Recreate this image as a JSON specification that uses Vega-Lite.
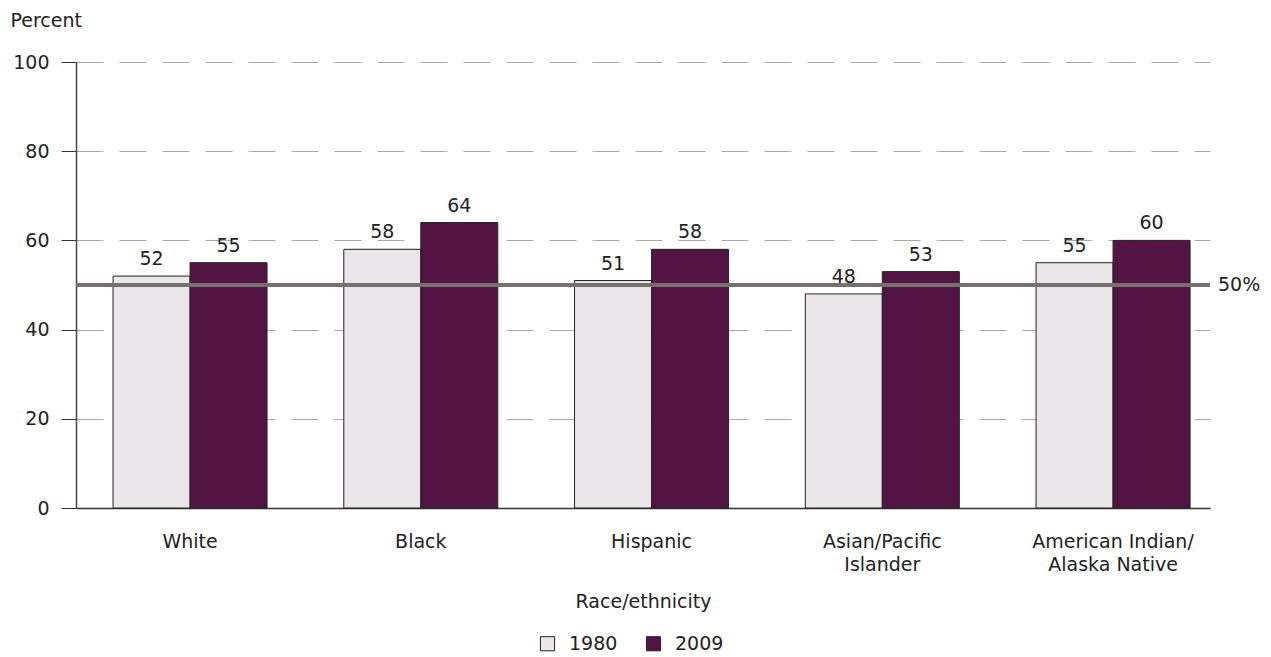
{
  "$schema": "https://vega.github.io/schema/vega-lite/v6.json",
  "width": 1134,
  "height": 446,
  "autosize": "none",
  "padding": {"left": 76, "top": 62, "right": 61, "bottom": 149},
  "background": "white",
  "config": {
    "view": {"stroke": null},
    "font": "DejaVu Sans",
    "axis": {"labelFont": "DejaVu Sans", "titleFont": "DejaVu Sans", "labelColor": "#222", "titleColor": "#222", "titleFontWeight": "normal"},
    "legend": {"labelFont": "DejaVu Sans"}
  },
  "data": {
    "values": [
      {"race": "White", "year": "1980", "pct": 52},
      {"race": "White", "year": "2009", "pct": 55},
      {"race": "Black", "year": "1980", "pct": 58},
      {"race": "Black", "year": "2009", "pct": 64},
      {"race": "Hispanic", "year": "1980", "pct": 51},
      {"race": "Hispanic", "year": "2009", "pct": 58},
      {"race": "Asian/Pacific Islander", "year": "1980", "pct": 48},
      {"race": "Asian/Pacific Islander", "year": "2009", "pct": 53},
      {"race": "American Indian/Alaska Native", "year": "1980", "pct": 55},
      {"race": "American Indian/Alaska Native", "year": "2009", "pct": 60}
    ]
  },
  "encoding": {
    "x": {
      "field": "race",
      "type": "nominal",
      "sort": null,
      "scale": {"paddingInner": 0.3326, "paddingOuter": 0.1235, "align": 0.65},
      "axis": {
        "title": "Race/ethnicity",
        "titleFontSize": 19,
        "titlePadding": 18,
        "labelAngle": 0,
        "labelFontSize": 19,
        "labelPadding": 33,
        "labelLineHeight": 23,
        "labelBaseline": "middle",
        "ticks": false,
        "domainColor": "#333",
        "domainWidth": 1.5,
        "labelExpr": "datum.value == 'Asian/Pacific Islander' ? ['Asian/Pacific', 'Islander'] : datum.value == 'American Indian/Alaska Native' ? ['American Indian/', 'Alaska Native'] : datum.value"
      }
    },
    "xOffset": {"field": "year", "type": "nominal", "scale": {"paddingInner": 0, "paddingOuter": 0}}
  },
  "layer": [
    {
      "mark": {"type": "bar", "stroke": "#222", "strokeWidth": 1},
      "encoding": {
        "y": {
          "field": "pct",
          "type": "quantitative",
          "scale": {"domain": [0, 100]},
          "axis": {
            "values": [0, 20, 40, 60, 80, 100],
            "title": "Percent",
            "titleAngle": 0,
            "titleAlign": "left",
            "titleBaseline": "middle",
            "titleX": -66,
            "titleY": -42,
            "titleFontSize": 19,
            "labelFontSize": 19,
            "labelPadding": 12,
            "tickSize": 15,
            "tickColor": "#333",
            "domainColor": "#444",
            "domainWidth": 1.5,
            "grid": true,
            "gridDash": [27, 16],
            "gridColor": "#aaa",
            "gridWidth": 1
          }
        },
        "fill": {
          "field": "year",
          "type": "nominal",
          "scale": {"domain": ["1980", "2009"], "range": ["#ece6ea", "#521443"]},
          "legend": {
            "title": null,
            "orient": "none",
            "direction": "horizontal",
            "legendX": 462,
            "legendY": 572,
            "symbolType": "square",
            "symbolSize": 200,
            "symbolStrokeColor": "#222",
            "symbolStrokeWidth": 1,
            "labelFontSize": 19,
            "labelColor": "#222",
            "columnPadding": 26,
            "labelOffset": 12
          }
        }
      }
    },
    {
      "mark": {"type": "text", "baseline": "bottom", "dy": -7, "fontSize": 19, "color": "#222"},
      "encoding": {
        "y": {"field": "pct", "type": "quantitative"},
        "text": {"field": "pct", "type": "quantitative"}
      }
    },
    {
      "data": {"values": [{"ref": 50, "label": "50%"}]},
      "layer": [
        {
          "mark": {"type": "rule", "color": "#76716e", "strokeWidth": 4},
          "encoding": {"x": null, "xOffset": null, "y": {"field": "ref", "type": "quantitative"}}
        },
        {
          "mark": {"type": "text", "align": "left", "baseline": "middle", "fontSize": 19, "color": "#222", "x": {"expr": "width"}, "dx": 8},
          "encoding": {"x": null, "xOffset": null, "y": {"field": "ref", "type": "quantitative"}, "text": {"field": "label"}}
        }
      ]
    }
  ]
}
